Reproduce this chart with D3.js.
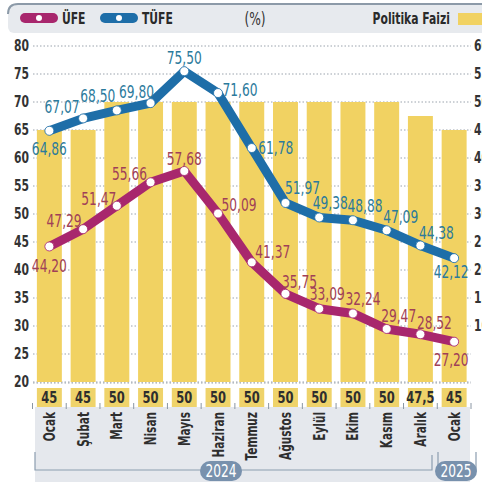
<!DOCTYPE html>
<html>
<head>
<meta charset="utf-8">
<script src="https://cdn.jsdelivr.net/npm/d3@7"></script>
<style>
  body { margin: 0; background: #fff; }
  svg { display: block; font-family: "DejaVu Sans", sans-serif; }
</style>
</head>
<body>
<div id="vis"></div>
<script>
// data
var months = ['Ocak', 'Şubat', 'Mart', 'Nisan', 'Mayıs', 'Haziran', 'Temmuz', 'Ağustos', 'Eylül', 'Ekim', 'Kasım', 'Aralık', 'Ocak'];
var tufe = [64.86, 67.07, 68.50, 69.80, 75.50, 71.60, 61.78, 51.97, 49.38, 48.88, 47.09, 44.38, 42.12];
var ufe = [44.20, 47.29, 51.47, 55.66, 57.68, 50.09, 41.37, 35.75, 33.09, 32.24, 29.47, 28.52, 27.20];
var faiz = [45, 45, 50, 50, 50, 50, 50, 50, 50, 50, 50, 47.5, 45];
var leftTicks = [20, 25, 30, 35, 40, 45, 50, 55, 60, 65, 70, 75, 80];
var rightTicks = [10, 15, 20, 25, 30, 35, 40, 45, 50, 55, 60];

// label offsets from the point (dx, dy)
var tufeOff = [[0, 18], [-21, -11], [-19, -14], [-14, -11], [0, -13], [22, -3], [24, 0], [17, -15], [11, -14], [12, -14], [14, -13], [16, -12], [-3, 14]];
var ufeOff = [[0, 20], [-19, -8], [-18, -7], [-21, -8], [0, -12], [21, -8], [21, -10], [14, -12], [8, -15], [10, -14], [12, -13], [14, -11], [-3, 18]];

var width = 482, height = 482;
var ufeColor = '#a8276d', tufeColor = '#1e6ea8';
var barColor = '#f1d262';
var NARROW = 0.72; // horizontal squeeze to fake a condensed face

var svg = d3.select('#vis').append('svg')
  .attr('width', width)
  .attr('height', height);

// text drawn at (x, y) and squeezed sideways
function ntext(parent, px, py, str, size, weight, color, anchor) {
  return parent.append('text')
    .attr('transform', 'translate(' + px + ',' + py + ') scale(' + NARROW + ',1)')
    .attr('text-anchor', anchor || 'start')
    .attr('font-size', size)
    .attr('font-weight', weight || 'normal')
    .attr('fill', color)
    .text(str);
}

var x = d3.scaleBand()
  .domain(d3.range(months.length))
  .range([32.5, 471])
  .paddingInner(0.26)
  .paddingOuter(0.13);

var y = d3.scaleLinear().domain([20, 80]).range([382, 46]);
var yRight = d3.scaleLinear().domain([0, 60]).range([382, 46]);

function cx(i) { return x(i) + x.bandwidth() / 2; }

// header band
svg.append('rect')
  .attr('x', 8).attr('y', 4).attr('width', 480).attr('height', 29)
  .attr('rx', 6)
  .attr('fill', '#e7eaee');
svg.append('path')
  .attr('d', 'M8,14 Q8,4 18,4 H482')
  .attr('fill', 'none')
  .attr('stroke', '#8c9aa8')
  .attr('stroke-width', 2);

// legend
function legendPill(px, color, label) {
  svg.append('rect')
    .attr('x', px).attr('y', 13).attr('width', 38).attr('height', 10)
    .attr('rx', 5)
    .attr('fill', color);
  svg.append('circle')
    .attr('cx', px + 19).attr('cy', 18).attr('r', 3)
    .attr('fill', '#fff');
  ntext(svg, px + 42, 24, label, 15, 'bold', '#2a2a2a');
}
legendPill(20, ufeColor, 'ÜFE');
legendPill(100, tufeColor, 'TÜFE');

ntext(svg, 255, 25, '(%)', 17, 'normal', '#333', 'middle');
ntext(svg, 450, 24, 'Politika Faizi', 15, 'bold', '#2a2a2a', 'end');

svg.append('rect')
  .attr('x', 458).attr('y', 13).attr('width', 30).attr('height', 12)
  .attr('fill', barColor);

// grid
svg.append('g')
  .selectAll('line')
  .data(leftTicks)
  .enter()
  .append('line')
  .attr('x1', 33).attr('x2', 471)
  .attr('y1', function (d) { return y(d); })
  .attr('y2', function (d) { return y(d); })
  .attr('stroke', '#9aa3ad')
  .attr('stroke-width', 1)
  .attr('stroke-dasharray', '1.5,2');

// left axis labels
var gl = svg.append('g');
leftTicks.forEach(function (d) {
  ntext(gl, 29, y(d) + 5, d, 15, 'bold', '#333', 'end');
});

// right axis labels (cut by the edge, as in the picture)
var gr = svg.append('g');
rightTicks.forEach(function (d) {
  ntext(gr, 474, yRight(d) + 5, d, 15, 'bold', '#333');
});

// bars
svg.append('g')
  .selectAll('rect')
  .data(faiz)
  .enter()
  .append('rect')
  .attr('x', function (d, i) { return x(i); })
  .attr('y', function (d) { return yRight(d); })
  .attr('width', x.bandwidth())
  .attr('height', function (d) { return yRight(0) - yRight(d); })
  .attr('fill', barColor);

// baseline dotted line over bars
svg.append('line')
  .attr('x1', 33).attr('x2', 471)
  .attr('y1', y(20) + 1).attr('y2', y(20) + 1)
  .attr('stroke', '#9aa3ad')
  .attr('stroke-dasharray', '1.5,2');

// bottom panel
svg.append('rect')
  .attr('x', 35).attr('y', 407).attr('width', 435).attr('height', 80)
  .attr('fill', '#e5e8ed');

// value boxes
var gb = svg.append('g');
faiz.forEach(function (d, i) {
  gb.append('rect')
    .attr('x', x(i))
    .attr('y', 388)
    .attr('width', x.bandwidth())
    .attr('height', 19)
    .attr('fill', '#efd36a');
  ntext(gb, cx(i), 403, String(d).replace('.', ','), 16, 'bold', '#2e2e2e', 'middle');
});

// small ticks between boxes
svg.append('g')
  .selectAll('line')
  .data(d3.range(months.length + 1))
  .enter()
  .append('line')
  .attr('x1', function (i) { return x(0) + i * x.step() - (x.step() - x.bandwidth()) / 2; })
  .attr('x2', function (i) { return x(0) + i * x.step() - (x.step() - x.bandwidth()) / 2; })
  .attr('y1', 403).attr('y2', 409)
  .attr('stroke', '#8a96a3');

// month labels
svg.append('g')
  .selectAll('text')
  .data(months)
  .enter()
  .append('text')
  .attr('transform', function (d, i) { return 'translate(' + (cx(i) + 5.5) + ',412) rotate(-90) scale(0.68,1)'; })
  .attr('text-anchor', 'end')
  .attr('font-size', 15.5).attr('font-weight', 'bold')
  .attr('fill', '#2e2e2e')
  .text(function (d) { return d; });

// year brackets
svg.append('path')
  .attr('d', 'M35,452 V470 H432 V455')
  .attr('fill', 'none')
  .attr('stroke', '#8c9db0')
  .attr('stroke-width', 1.2);
svg.append('path')
  .attr('d', 'M438,452 V470 H476 V452')
  .attr('fill', 'none')
  .attr('stroke', '#8c9db0')
  .attr('stroke-width', 1.2);

function yearPill(px, w, label) {
  svg.append('rect')
    .attr('x', px).attr('y', 461).attr('width', w).attr('height', 20)
    .attr('rx', 10)
    .attr('fill', '#7891ad');
  ntext(svg, px + w / 2, 477, label, 17, 'normal', '#fff', 'middle');
}
yearPill(200, 42, '2024');
yearPill(435, 42, '2025');

// lines
var line = d3.line()
  .x(function (d, i) { return cx(i); })
  .y(function (d) { return y(d); });

function drawSeries(values, color, offsets, labelColor) {
  svg.append('path')
    .datum(values)
    .attr('d', line)
    .attr('fill', 'none')
    .attr('stroke', color)
    .attr('stroke-width', 9)
    .attr('stroke-linejoin', 'round')
    .attr('stroke-linecap', 'round');

  svg.append('g')
    .selectAll('circle')
    .data(values)
    .enter()
    .append('circle')
    .attr('cx', function (d, i) { return cx(i); })
    .attr('cy', function (d) { return y(d); })
    .attr('r', 4.5)
    .attr('fill', '#fff')
    .attr('stroke', color)
    .attr('stroke-width', 0.8);

  var g = svg.append('g');
  values.forEach(function (d, i) {
    ntext(g, cx(i) + offsets[i][0], y(d) + offsets[i][1] + 6,
      d.toFixed(2).replace('.', ','), 17, 'normal', labelColor, 'middle');
  });
}

drawSeries(tufe, tufeColor, tufeOff, '#2b7a9c');
drawSeries(ufe, ufeColor, ufeOff, '#a03f58');
</script>
</body>
</html>
